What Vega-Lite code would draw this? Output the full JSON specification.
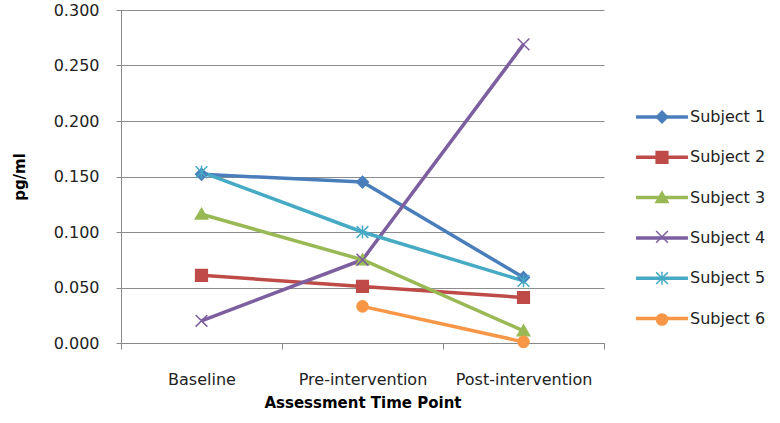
{
  "$schema": "https://vega.github.io/schema/vega-lite/v6.json",
  "width": 483,
  "height": 333,
  "autosize": {"type": "none"},
  "padding": {"left": 121, "top": 10, "right": 176, "bottom": 80},
  "background": "white",
  "config": {"view": {"stroke": null}, "font": "DejaVu Sans"},
  "data": {
    "values": [
      {"subject": "Subject 1", "time": "Baseline", "value": 0.152},
      {"subject": "Subject 1", "time": "Pre-intervention", "value": 0.145},
      {"subject": "Subject 1", "time": "Post-intervention", "value": 0.059},
      {"subject": "Subject 2", "time": "Baseline", "value": 0.061},
      {"subject": "Subject 2", "time": "Pre-intervention", "value": 0.051},
      {"subject": "Subject 2", "time": "Post-intervention", "value": 0.041},
      {"subject": "Subject 3", "time": "Baseline", "value": 0.116},
      {"subject": "Subject 3", "time": "Pre-intervention", "value": 0.075},
      {"subject": "Subject 3", "time": "Post-intervention", "value": 0.011},
      {"subject": "Subject 4", "time": "Baseline", "value": 0.020},
      {"subject": "Subject 4", "time": "Pre-intervention", "value": 0.075},
      {"subject": "Subject 4", "time": "Post-intervention", "value": 0.269},
      {"subject": "Subject 5", "time": "Baseline", "value": 0.154},
      {"subject": "Subject 5", "time": "Pre-intervention", "value": 0.100},
      {"subject": "Subject 5", "time": "Post-intervention", "value": 0.056},
      {"subject": "Subject 6", "time": "Pre-intervention", "value": 0.033},
      {"subject": "Subject 6", "time": "Post-intervention", "value": 0.001}
    ]
  },
  "encoding": {
    "x": {
      "field": "time", "type": "nominal",
      "sort": ["Baseline", "Pre-intervention", "Post-intervention"],
      "scale": {"type": "band", "paddingInner": 0, "paddingOuter": 0},
      "axis": {
        "title": "Assessment Time Point", "titleFontSize": 15, "titleFontWeight": "bold", "titleColor": "#000",
        "labelFontSize": 16, "labelColor": "#222", "labelAngle": 0,
        "tickBand": "extent", "tickSize": 6, "tickColor": "#888", "domainColor": "#888",
        "labelPadding": 22, "titlePadding": 8, "grid": false
      }
    },
    "y": {
      "field": "value", "type": "quantitative",
      "scale": {"domain": [0, 0.3], "nice": false, "zero": true},
      "axis": {
        "title": "pg/ml", "titleFontSize": 15, "titleFontWeight": "bold", "titleColor": "#000", "titlePadding": 26,
        "values": [0, 0.05, 0.1, 0.15, 0.2, 0.25, 0.3], "format": ".3f",
        "labelFontSize": 16, "labelColor": "#222", "tickSize": 5, "labelPadding": 17,
        "grid": true, "gridColor": "#8c8c8c", "domainColor": "#888", "tickColor": "#888"
      }
    }
  },
  "layer": [
    {
      "mark": {"type": "line", "strokeWidth": 3.5},
      "encoding": {
        "color": {
          "field": "subject", "type": "nominal",
          "scale": {"range": ["#4A7EBB", "#BE4B48", "#98B954", "#7D5FA0", "#46AAC5", "#F79646"]},
          "legend": {
            "title": null, "orient": "none", "legendX": 533, "legendY": 99, "padding": 0,
            "symbolType": "M-3.8,-0.08H3.8V0.08H-3.8Z", "symbolStrokeWidth": 2.5,
            "symbolSize": 169, "labelFontSize": 16, "labelColor": "#222", "labelOffset": 20, "rowPadding": 24.3
          }
        }
      }
    },
    {
      "mark": {"type": "point", "filled": true, "size": 169, "strokeWidth": 1.5, "opacity": 1},
      "encoding": {
        "fill": {
          "field": "subject", "type": "nominal",
          "scale": {
            "domain": ["Subject 1", "Subject 2", "Subject 3", "Subject 4", "Subject 5", "Subject 6"],
            "range": ["#4A7EBB", "#BE4B48", "#98B954", "#7D5FA0", "#46AAC5", "#F79646"]
          },
          "legend": {
            "title": null, "orient": "none", "legendX": 533, "legendY": 99, "padding": 0,
            "symbolSize": 169, "labelFontSize": 16, "labelColor": "transparent", "labelOffset": 20, "rowPadding": 22.3,
            "symbolStrokeWidth": 1.5
          }
        },
        "stroke": {
          "field": "subject", "type": "nominal",
          "scale": {
            "domain": ["Subject 1", "Subject 2", "Subject 3", "Subject 4", "Subject 5", "Subject 6"],
            "range": ["#4A7EBB", "#BE4B48", "#98B954", "#7D5FA0", "#46AAC5", "#F79646"]
          },
          "legend": {
            "title": null, "orient": "none", "legendX": 533, "legendY": 99, "padding": 0,
            "symbolSize": 169, "labelFontSize": 16, "labelColor": "transparent", "labelOffset": 20, "rowPadding": 22.3,
            "symbolStrokeWidth": 1.5
          }
        },
        "shape": {
          "field": "subject", "type": "nominal",
          "scale": {
            "domain": ["Subject 1", "Subject 2", "Subject 3", "Subject 4", "Subject 5", "Subject 6"],
            "range": [
              "M0,-0.9L0.9,0L0,0.9L-0.9,0Z",
              "M-0.9,-0.9H0.9V0.9H-0.9Z",
              "M0,-0.9L0.95,0.75L-0.95,0.75Z",
              "M-0.9,-0.9L0.9,0.9M0.9,-0.9L-0.9,0.9",
              "M-0.9,-0.9L0.9,0.9M0.9,-0.9L-0.9,0.9M0,-1L0,1",
              "M0,-0.85A0.85,0.85,0,1,1,0,0.85A0.85,0.85,0,1,1,0,-0.85Z"
            ]
          },
          "legend": {
            "title": null, "orient": "none", "legendX": 533, "legendY": 99, "padding": 0,
            "symbolSize": 169, "labelFontSize": 16, "labelColor": "transparent", "labelOffset": 20, "rowPadding": 22.3,
            "symbolStrokeWidth": 1.5
          }
        }
      }
    }
  ]
}
